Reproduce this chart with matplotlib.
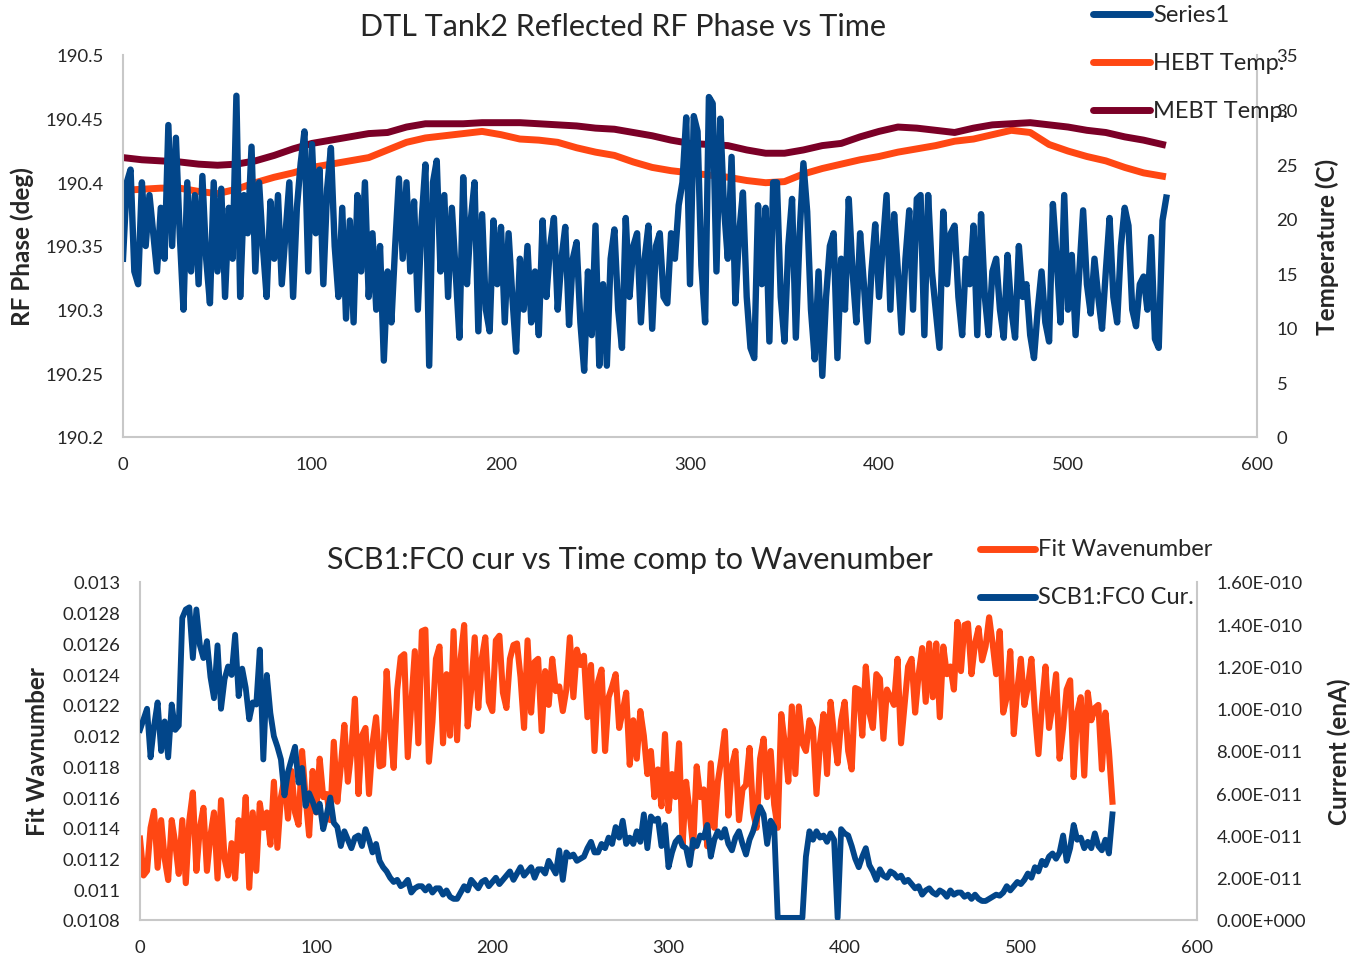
import numpy as np
import matplotlib
matplotlib.use("Agg")
import matplotlib.pyplot as plt
from matplotlib.lines import Line2D

plt.rcParams["font.family"] = ["Lato", "DejaVu Sans"]

# ---------- top panel: DTL Tank2 reflected RF phase ----------
phase_time = np.arange(0, 553, 2)
rf_phase = [
    190.34, 190.40, 190.41, 190.33, 190.32, 190.40, 190.35, 190.39, 190.36, 190.33,
    190.38, 190.34, 190.445, 190.35, 190.435, 190.36, 190.30, 190.40, 190.33, 190.39,
    190.32, 190.405, 190.34, 190.305, 190.40, 190.33, 190.395, 190.31, 190.38, 190.34,
    190.468, 190.31, 190.39, 190.36, 190.428, 190.33, 190.40, 190.35, 190.31, 190.385,
    190.34, 190.39, 190.32, 190.36, 190.40, 190.31, 190.38, 190.415, 190.44, 190.33,
    190.43, 190.36, 190.41, 190.32, 190.395, 190.427, 190.35, 190.31, 190.38, 190.293,
    190.37, 190.29, 190.39, 190.33, 190.40, 190.31, 190.36, 190.30, 190.35, 190.26,
    190.33, 190.29, 190.35, 190.403, 190.34, 190.40, 190.33, 190.385, 190.30, 190.37,
    190.414, 190.256, 190.40, 190.417, 190.33, 190.39, 190.31, 190.38, 190.33, 190.278,
    190.404, 190.32, 190.37, 190.40, 190.283, 190.375, 190.30, 190.283, 190.37, 190.32,
    190.365, 190.29, 190.36, 190.31, 190.267, 190.34, 190.30, 190.35, 190.29, 190.33,
    190.28, 190.37, 190.31, 190.35, 190.372, 190.30, 190.34, 190.365, 190.288, 190.34,
    190.353, 190.29, 190.252, 190.33, 190.28, 190.366, 190.256, 190.32, 190.256, 190.34,
    190.363, 190.30, 190.27, 190.372, 190.31, 190.35, 190.36, 190.29, 190.34, 190.366,
    190.285, 190.35, 190.36, 190.31, 190.305, 190.36, 190.34, 190.382, 190.40, 190.451,
    190.32, 190.452, 190.44, 190.335, 190.29, 190.467, 190.462, 190.33, 190.45, 190.38,
    190.34, 190.42, 190.305, 190.36, 190.392, 190.31, 190.27, 190.262, 190.382, 190.32,
    190.38, 190.275, 190.40, 190.40, 190.31, 190.275, 190.35, 190.387, 190.278, 190.36,
    190.415, 190.377, 190.30, 190.261, 190.33, 190.248, 190.31, 190.35, 190.36, 190.262,
    190.34, 190.30, 190.387, 190.33, 190.29, 190.36, 190.32, 190.275, 190.33, 190.367,
    190.31, 190.35, 190.39, 190.30, 190.375, 190.33, 190.282, 190.34, 190.378, 190.30,
    190.387, 190.39, 190.28, 190.39, 190.33, 190.30, 190.27, 190.377, 190.32, 190.36,
    190.366, 190.31, 190.28, 190.34, 190.32, 190.366, 190.28, 190.375, 190.31, 190.28,
    190.33, 190.34, 190.30, 190.278, 190.343, 190.30, 190.278, 190.35, 190.31, 190.32,
    190.28, 190.262, 190.30, 190.33, 190.29, 190.275, 190.383, 190.34, 190.29, 190.39,
    190.30, 190.343, 190.28, 190.33, 190.378, 190.32, 190.297, 190.34, 190.31, 190.285,
    190.33, 190.372, 190.31, 190.29, 190.35, 190.38, 190.366, 190.30, 190.287, 190.32,
    190.326, 190.30, 190.357, 190.277, 190.27, 190.37, 190.388,
]

temp_time = np.arange(0, 551, 10)
hebt_temp = [
    22.6, 22.7, 22.8, 22.8, 22.5, 22.3, 22.7, 23.3, 23.8, 24.2,
    24.7, 25.0, 25.3, 25.6, 26.3, 27.0, 27.4, 27.6, 27.8, 28.0,
    27.7, 27.3, 27.2, 27.0, 26.5, 26.1, 25.8, 25.2, 24.7, 24.4,
    24.2, 24.0, 23.8, 23.5, 23.3, 23.4, 24.1, 24.6, 25.0, 25.4,
    25.7, 26.1, 26.4, 26.7, 27.1, 27.3, 27.7, 28.1, 27.9, 26.8,
    26.2, 25.7, 25.3, 24.7, 24.2, 23.9,
]
mebt_temp = [
    25.6, 25.4, 25.3, 25.2, 25.0, 24.9, 25.0, 25.3, 25.8, 26.4,
    26.9, 27.2, 27.5, 27.8, 27.9, 28.4, 28.7, 28.7, 28.7, 28.8,
    28.8, 28.8, 28.7, 28.6, 28.5, 28.3, 28.2, 27.9, 27.6, 27.2,
    26.9, 26.8, 26.7, 26.3, 26.0, 26.0, 26.3, 26.7, 26.9, 27.5,
    28.0, 28.4, 28.3, 28.1, 27.9, 28.3, 28.6, 28.7, 28.8, 28.6,
    28.4, 28.1, 27.9, 27.5, 27.2, 26.8,
]

phase_ticks = [190.2, 190.25, 190.3, 190.35, 190.4, 190.45, 190.5]
phase_labels = ["190.2", "190.25", "190.3", "190.35", "190.4", "190.45", "190.5"]
temp_ticks = [0, 5, 10, 15, 20, 25, 30, 35]

# ---------- bottom panel: SCB1:FC0 current vs fit wavenumber ----------
scan_time = np.arange(0, 553, 2)
fc0_cur_e11 = [
    9.0, 9.5, 10.0, 7.7, 9.2, 10.3, 8.0, 9.4, 7.7, 10.2,
    9.0, 9.2, 14.3, 14.7, 14.8, 12.4, 14.7, 13.0, 12.4, 13.2,
    11.5, 10.5, 13.0, 10.0, 11.4, 12.0, 11.6, 13.5, 10.6, 11.9,
    11.0, 9.5, 10.3, 10.2, 12.8, 7.6, 11.6, 9.8, 8.7, 8.2,
    7.6, 5.9, 7.0, 7.6, 8.2, 6.5, 7.2, 5.4, 6.0, 5.6,
    5.1, 5.5, 4.3, 5.0, 5.8, 4.6, 4.4, 3.5, 4.2, 3.8,
    3.4, 3.9, 4.0, 3.5, 4.3, 3.8, 3.2, 3.6, 2.8, 2.5,
    2.3, 2.0, 1.8, 1.9, 1.6, 1.7, 1.9, 1.3, 1.5, 1.6,
    1.6, 1.4, 1.6, 1.3, 1.5, 1.5, 1.2, 1.4, 1.1, 1.0,
    1.0, 1.3, 1.6, 1.4, 1.9, 1.7, 1.5, 1.8, 1.9, 1.6,
    1.8, 2.0, 1.7, 1.9, 2.1, 2.3, 1.9, 2.2, 2.5, 2.1,
    2.3, 2.5, 2.0, 2.4, 2.4, 2.2, 2.8, 2.5, 2.2, 3.3,
    1.9, 3.2, 3.0, 3.1, 2.8, 2.9, 3.0, 3.4, 3.7, 3.2,
    3.2, 3.6, 3.4, 3.9, 3.6, 4.4, 3.9, 4.7, 3.6, 3.9,
    3.6, 4.2, 3.7, 5.0, 3.4, 4.9, 4.7, 4.8, 3.5, 4.5,
    2.5, 3.2, 3.7, 3.9, 3.5, 3.4, 2.6, 3.8, 3.5, 4.0,
    3.9, 4.5, 3.0, 3.8, 4.2, 3.9, 4.3, 3.6, 3.3, 3.9,
    4.2, 3.6, 3.1, 3.8, 4.2, 4.8, 5.35, 5.0, 3.6, 4.7,
    4.4, 0.1, 0.1, 0.1, 0.1, 0.1, 0.1, 0.1, 0.1, 3.0,
    4.2, 3.8, 4.2, 3.9, 4.0, 3.7, 4.1, 3.8, 0.1, 4.3,
    4.1, 4.0, 3.5, 2.9, 2.5, 3.0, 3.4, 2.6, 2.3, 1.9,
    2.4, 2.1, 2.0, 2.3, 2.2, 2.0, 2.1, 1.8, 1.9, 1.7,
    1.5, 1.6, 1.2, 1.4, 1.5, 1.3, 1.2, 1.4, 1.3, 1.1,
    1.4, 1.2, 1.3, 1.3, 1.1, 1.2, 1.0, 1.2, 1.0, 0.9,
    0.9, 1.0, 1.1, 1.2, 1.15, 1.3, 1.6, 1.4, 1.6, 1.8,
    1.7, 1.9, 2.2, 2.0, 2.5, 2.3, 2.8, 2.6, 3.0, 3.15,
    2.9, 3.2, 4.0, 2.8, 3.4, 4.5, 3.8, 3.9, 3.4, 3.7,
    3.4, 4.1, 3.5, 3.3, 3.8, 3.15, 5.0,
]
fit_wavenumber_e5 = [
    1133, 1109, 1112, 1140, 1151, 1114, 1145, 1120, 1106, 1145,
    1130, 1110, 1145, 1104, 1145, 1163, 1112, 1140, 1153, 1112,
    1135, 1150, 1107, 1158, 1120, 1109, 1130, 1107, 1145, 1125,
    1160, 1101, 1150, 1112, 1156, 1140, 1150, 1129, 1170, 1127,
    1160, 1172, 1146, 1177, 1150, 1142, 1190, 1160, 1135, 1177,
    1150, 1185, 1160, 1162, 1145, 1196, 1157, 1180, 1207, 1170,
    1190, 1224, 1162, 1200, 1205, 1162, 1195, 1212, 1180, 1181,
    1242, 1205, 1179, 1230, 1251, 1253, 1186, 1220, 1255, 1195,
    1268, 1269, 1183, 1209, 1250, 1258, 1195, 1240, 1200, 1268,
    1197, 1250, 1272, 1206, 1230, 1264, 1218, 1250, 1264, 1222,
    1216, 1262, 1265, 1228, 1218, 1250, 1259, 1260, 1238, 1205,
    1262, 1215, 1248, 1250, 1203, 1242, 1220, 1250, 1229, 1232,
    1216, 1230, 1264, 1225, 1256, 1246, 1252, 1212, 1246, 1190,
    1235, 1243, 1190, 1225, 1232, 1240, 1205, 1216, 1228, 1181,
    1210, 1185, 1216, 1200, 1175, 1190, 1160, 1178, 1154, 1201,
    1151, 1175, 1160, 1195, 1129, 1170, 1150, 1127, 1180, 1160,
    1165, 1128, 1182, 1140, 1170, 1185, 1203, 1148, 1180, 1190,
    1145, 1165, 1168, 1192, 1150, 1140, 1185, 1198, 1160, 1190,
    1155, 1140, 1214, 1195, 1170, 1219, 1175, 1219, 1195, 1190,
    1210, 1205, 1162, 1195, 1214, 1175, 1222, 1200, 1182, 1210,
    1222, 1190, 1178, 1231, 1230, 1200, 1245, 1215, 1205, 1240,
    1237, 1198, 1230, 1225, 1220, 1250, 1195, 1220, 1245, 1250,
    1215, 1240, 1257, 1222, 1260, 1225, 1260, 1212, 1258, 1240,
    1245, 1230, 1274, 1242, 1272, 1273, 1240, 1260, 1270, 1249,
    1258, 1277, 1260, 1240, 1268, 1215, 1225, 1255, 1201, 1230,
    1250, 1220, 1232, 1250, 1215, 1188, 1220, 1245, 1205, 1220,
    1240, 1185, 1205, 1230, 1236, 1173, 1215, 1225, 1174, 1228,
    1210, 1218, 1220, 1178, 1215, 1190, 1157,
]

wave_ticks = [0.0108, 0.011, 0.0112, 0.0114, 0.0116, 0.0118, 0.012,
              0.0122, 0.0124, 0.0126, 0.0128, 0.013]
wave_labels = ["0.0108", "0.011", "0.0112", "0.0114", "0.0116", "0.0118",
               "0.012", "0.0122", "0.0124", "0.0126", "0.0128", "0.013"]
cur_ticks = [0, 2e-11, 4e-11, 6e-11, 8e-11, 1e-10, 1.2e-10, 1.4e-10, 1.6e-10]
cur_labels = ["0.00E+000", "2.00E-011", "4.00E-011", "6.00E-011", "8.00E-011",
              "1.00E-010", "1.20E-010", "1.40E-010", "1.60E-010"]
time_ticks = [0, 100, 200, 300, 400, 500, 600]

BLUE = "#02468a"
ORANGE = "#ff4713"
MAROON = "#7b0027"
AXIS_GREY = "#c8c8c8"
TXT = "#262626"

W, H = 1358, 962


def fx(px):
    return px / W


def fy(py):
    return 1 - py / H


def style_pair(ax, ax2, size):
    ax.spines["top"].set_visible(False)
    ax2.spines["top"].set_visible(False)
    ax2.spines["left"].set_visible(False)
    ax.spines["right"].set_visible(False)
    ax2.spines["bottom"].set_visible(False)
    for sp in [ax.spines["left"], ax.spines["bottom"], ax2.spines["right"]]:
        sp.set_color(AXIS_GREY)
        sp.set_linewidth(1.5)
    for a in (ax, ax2):
        a.tick_params(length=0, pad=14, labelsize=size, colors=TXT)


def legend_entry(x0, x1, y, color, label):
    fig.add_artist(Line2D([fx(x0), fx(x1)], [fy(y), fy(y)], transform=fig.transFigure,
                          color=color, lw=5, solid_capstyle="round"))
    fig.text(fx(x1 + 3), fy(y), label, ha="left", va="center", fontsize=17, color=TXT)


fig = plt.figure(figsize=(W / 100, H / 100), dpi=100)

# ----- top -----
ax = fig.add_axes([fx(123), fy(438), fx(1257 - 123), (438 - 56) / H])
ax2 = ax.twinx()
ax2.plot(temp_time, hebt_temp, color=ORANGE, lw=5, solid_joinstyle="round")
ax2.plot(temp_time, mebt_temp, color=MAROON, lw=5, solid_joinstyle="round")
ax.plot(phase_time, rf_phase, color=BLUE, lw=4.6, solid_joinstyle="round")
ax.set_zorder(ax2.get_zorder() + 1)
ax.patch.set_visible(False)
ax.set_xlim(0, 600)
ax.set_ylim(190.2, 190.5)
ax2.set_ylim(0, 35)
ax.set_xticks(time_ticks)
ax.set_yticks(phase_ticks)
ax.set_yticklabels(phase_labels)
ax2.set_yticks(temp_ticks)
style_pair(ax, ax2, 13.3)

fig.text(fx(623), fy(27), "DTL Tank2 Reflected RF Phase vs Time", ha="center", va="center",
         fontsize=22, color=TXT)
fig.text(fx(22), fy(247), "RF Phase (deg)", rotation=90, ha="center", va="center",
         fontsize=17.5, fontweight="bold", color=TXT)
fig.text(fx(1327), fy(247), "Temperature (C)", rotation=90, ha="center", va="center",
         fontsize=17.5, fontweight="bold", color=TXT)
legend_entry(1093, 1150, 15, BLUE, "Series1")
legend_entry(1093, 1150, 63, ORANGE, "HEBT Temp.")
legend_entry(1093, 1150, 111, MAROON, "MEBT Temp.")

# ----- bottom -----
bx = fig.add_axes([fx(140), fy(921), fx(1197 - 140), (921 - 583) / H])
bx2 = bx.twinx()
bx.plot(scan_time, np.array(fit_wavenumber_e5) * 1e-5, color=ORANGE, lw=4.4,
        solid_joinstyle="round")
bx2.plot(scan_time, np.array(fc0_cur_e11) * 1e-11, color=BLUE, lw=4.2,
         solid_joinstyle="round")
bx.set_xlim(0, 600)
bx.set_ylim(0.0108, 0.013)
bx2.set_ylim(0, 1.6e-10)
bx.set_xticks(time_ticks)
bx.set_yticks(wave_ticks)
bx.set_yticklabels(wave_labels)
bx2.set_yticks(cur_ticks)
bx2.set_yticklabels(cur_labels)
style_pair(bx, bx2, 13.3)

fig.text(fx(630), fy(560), "SCB1:FC0 cur vs Time comp to Wavenumber", ha="center",
         va="center", fontsize=22, color=TXT)
fig.text(fx(38), fy(752), "Fit Wavnumber", rotation=90, ha="center", va="center",
         fontsize=17.5, fontweight="bold", color=TXT)
fig.text(fx(1339), fy(752), "Current (enA)", rotation=90, ha="center", va="center",
         fontsize=17.5, fontweight="bold", color=TXT)
legend_entry(980, 1035, 550, ORANGE, "Fit Wavenumber")
legend_entry(980, 1035, 598, BLUE, "SCB1:FC0 Cur.")

fig.savefig("out.png", dpi=100)
